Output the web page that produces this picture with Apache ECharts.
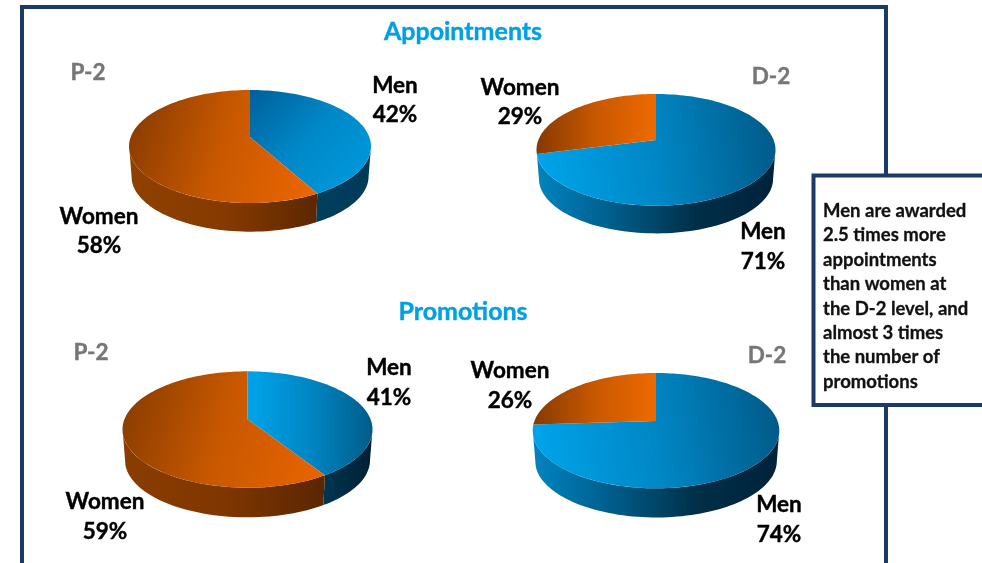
<!DOCTYPE html>
<html>
<head>
<meta charset="utf-8">
<title>Appointments and promotions</title>
<script src="https://cdn.jsdelivr.net/npm/echarts@6/dist/echarts.min.js"></script>
<style>
html, body { margin: 0; padding: 0; background: #fff; }
#chart { width: 982px; height: 563px; }
</style>
</head>
<body>
<div id="chart"></div>
<script>
// data
var pieNames = ['P-2', 'D-2', 'P-2', 'D-2'];
var menValues = [42, 71, 41, 74];
var womenValues = [58, 29, 59, 26];
var groupTitles = ['Appointments', 'Promotions'];
var noteLines = [
	'Men are awarded',
	'2.5 times more',
	'appointments',
	'than women at',
	'the D-2 level, and',
	'almost 3 times',
	'the number of',
	'promotions'
];

// where each pie sits: apex of the slices, reach up/down/sideways of the top face, wall height
var pieBoxes = [
	{ cx: 250, cy: 137, up: 47, down: 66, side: 121, wall: 30 },
	{ cx: 656, cy: 140, up: 46, down: 65.7, side: 119.5, wall: 29 },
	{ cx: 247.5, cy: 419.3, up: 48, down: 68.4, side: 125, wall: 31 },
	{ cx: 656, cy: 421, up: 48, down: 67.3, side: 123.3, wall: 30.5 }
];
// label centres: [men x, men y, women x, women y, name x, name y]
var labelSpots = [
	[395, 100, 99, 231, 88, 73],
	[763, 246.5, 520, 102, 771, 77],
	[389, 382.5, 105, 516.5, 91, 353],
	[779, 519.5, 510, 385.5, 767, 356]
];

function grad(x, y, x2, y2, stops) {
	var colorStops = [];
	for (var i = 0; i < stops.length; i++) {
		colorStops.push({ offset: i / (stops.length - 1), color: stops[i] });
	}
	return { type: 'linear', x: x, y: y, x2: x2, y2: y2, colorStops: colorStops };
}
var pieStyles = [
	{
		menTop: grad(0, 0, 0.9, 1, ['#00609a', '#0088c8', '#009ade']),
		womenTop: grad(0, 0.2, 1, 0.7, ['#883b00', '#c85800', '#ea6600']),
		menSide: grad(0, 0, 1, 0, ['#003f5e', '#003a56']),
		womenSide: grad(0, 0, 1, 0, ['#8f4100', '#873a00', '#5c2700'])
	},
	{
		menTop: grad(0, 0.6, 1, 0.3, ['#00a4ea', '#0086c4', '#005a88']),
		womenTop: grad(0, 0, 1, 0, ['#853a00', '#c85800', '#ee6a00']),
		menSide: grad(0, 0, 1, 0, ['#0084c0', '#005b88', '#002f48', '#00223a']),
		womenSide: grad(0, 0, 1, 0, ['#873a00', '#5c2700'])
	},
	{
		menTop: grad(0, 0.1, 1, 0.1, ['#00a4ea', '#0086c4', '#005c8a']),
		womenTop: grad(0, 0.2, 1, 0.7, ['#883c00', '#c85800', '#e66400']),
		menSide: grad(0, 0, 1, 0, ['#003650', '#001f32']),
		womenSide: grad(0, 0, 1, 0, ['#8b3d00', '#7f3600', '#5a2600'])
	},
	{
		menTop: grad(0, 0.6, 1, 0.3, ['#00a4ea', '#0086c4', '#005a88']),
		womenTop: grad(0, 0, 1, 0, ['#853a00', '#c85800', '#ee6a00']),
		menSide: grad(0, 0, 1, 0, ['#0084c0', '#005b88', '#002f48', '#00223a']),
		womenSide: grad(0, 0, 1, 0, ['#873a00', '#5c2700'])
	}
];

// tilted circle seen in perspective, angle is clockwise from 12 o'clock
function project(box, deg, scale, drop) {
	var k = (box.down - box.up) / (box.down + box.up);
	var b = box.down * (1 - k);
	var a = box.side * Math.sqrt(1 - k * k);
	var rad = deg * Math.PI / 180;
	var u = Math.sin(rad);
	var v = -Math.cos(rad);
	var w = 1 - k * v;
	return [box.cx + scale * a * u / w, box.cy + drop + scale * b * v / w];
}
function arcPoints(box, from, to, scale, drop) {
	var pts = [];
	var steps = Math.max(2, Math.ceil((to - from) / 2));
	for (var i = 0; i <= steps; i++) {
		pts.push(project(box, from + (to - from) * i / steps, scale, drop));
	}
	return pts;
}
function topFace(box, from, to, fill) {
	var pts = arcPoints(box, from, to, 1, 0);
	pts.push([box.cx, box.cy]);
	return { type: 'polygon', shape: { points: pts }, style: { fill: fill } };
}
function wallFace(box, from, to, fill) {
	// only the front of the wall can be seen
	var a = Math.max(from, 100);
	var b = Math.min(to, 255);
	if (b <= a) {
		return null;
	}
	var pts = arcPoints(box, a, b, 1, 0).concat(arcPoints(box, a, b, 0.98, box.wall).reverse());
	return { type: 'polygon', shape: { points: pts }, style: { fill: fill } };
}

function renderPie(params, api) {
	var idx = api.value(0);
	var men = api.value(1);
	var women = api.value(2);
	var box = pieBoxes[idx];
	var look = pieStyles[idx];
	var split = 360 * men / (men + women);
	var children = [
		wallFace(box, 0, split, look.menSide),
		wallFace(box, split, 360, look.womenSide),
		topFace(box, 0, split, look.menTop),
		topFace(box, split, 360, look.womenTop)
	].filter(function (c) { return c; });
	return { type: 'group', children: children };
}

var pieRows = [];
for (var i = 0; i < pieNames.length; i++) {
	pieRows.push([i, menValues[i], womenValues[i]]);
}

var navy = '#1b3a68';
var labelFont = 'bold 22.5px Lato, "Open Sans", sans-serif';
var titleFont = 'bold 25px Lato, "Open Sans", sans-serif';
var graphics = [
	{ type: 'rect', z: 1, shape: { x: 22, y: 7, width: 864, height: 620 }, style: { fill: '#fff', stroke: navy, lineWidth: 4 } }
];
function addText(x, y, text, font, color) {
	graphics.push({
		type: 'text', z: 10, x: x, y: y,
		style: { text: text, font: font, fill: color, stroke: color, lineWidth: 0.4, align: 'center', verticalAlign: 'middle', lineHeight: 29.5 }
	});
}
addText(463, 32, groupTitles[0], titleFont, '#00a0e3');
addText(463, 312, groupTitles[1], titleFont, '#00a0e3');
for (var j = 0; j < pieNames.length; j++) {
	var s = labelSpots[j];
	addText(s[0], s[1], 'Men\n' + menValues[j] + '%', labelFont, '#000');
	addText(s[2], s[3], 'Women\n' + womenValues[j] + '%', labelFont, '#000');
	addText(s[4], s[5], pieNames[j], labelFont, '#767676');
}
graphics.push({ type: 'rect', z: 20, shape: { x: 813.5, y: 175.5, width: 220, height: 229.5 }, style: { fill: '#fff', stroke: navy, lineWidth: 4 } });
graphics.push({
	type: 'text', z: 21, x: 823, y: 296.5,
	style: { text: noteLines.join('\n'), font: 'bold 18.5px Lato, "Open Sans", sans-serif', fill: '#111', stroke: '#111', lineWidth: 0.3, align: 'left', verticalAlign: 'middle', lineHeight: 24.4 }
});

var myChart = echarts.init(document.getElementById('chart'), null, { renderer: 'canvas' });
myChart.setOption({
	animation: false,
	backgroundColor: '#fff',
	graphic: { elements: graphics },
	series: [{
		type: 'custom',
		coordinateSystem: 'none',
		silent: true,
		z: 5,
		zlevel: 0,
		renderItem: renderPie,
		data: pieRows
	}]
});
</script>
</body>
</html>
